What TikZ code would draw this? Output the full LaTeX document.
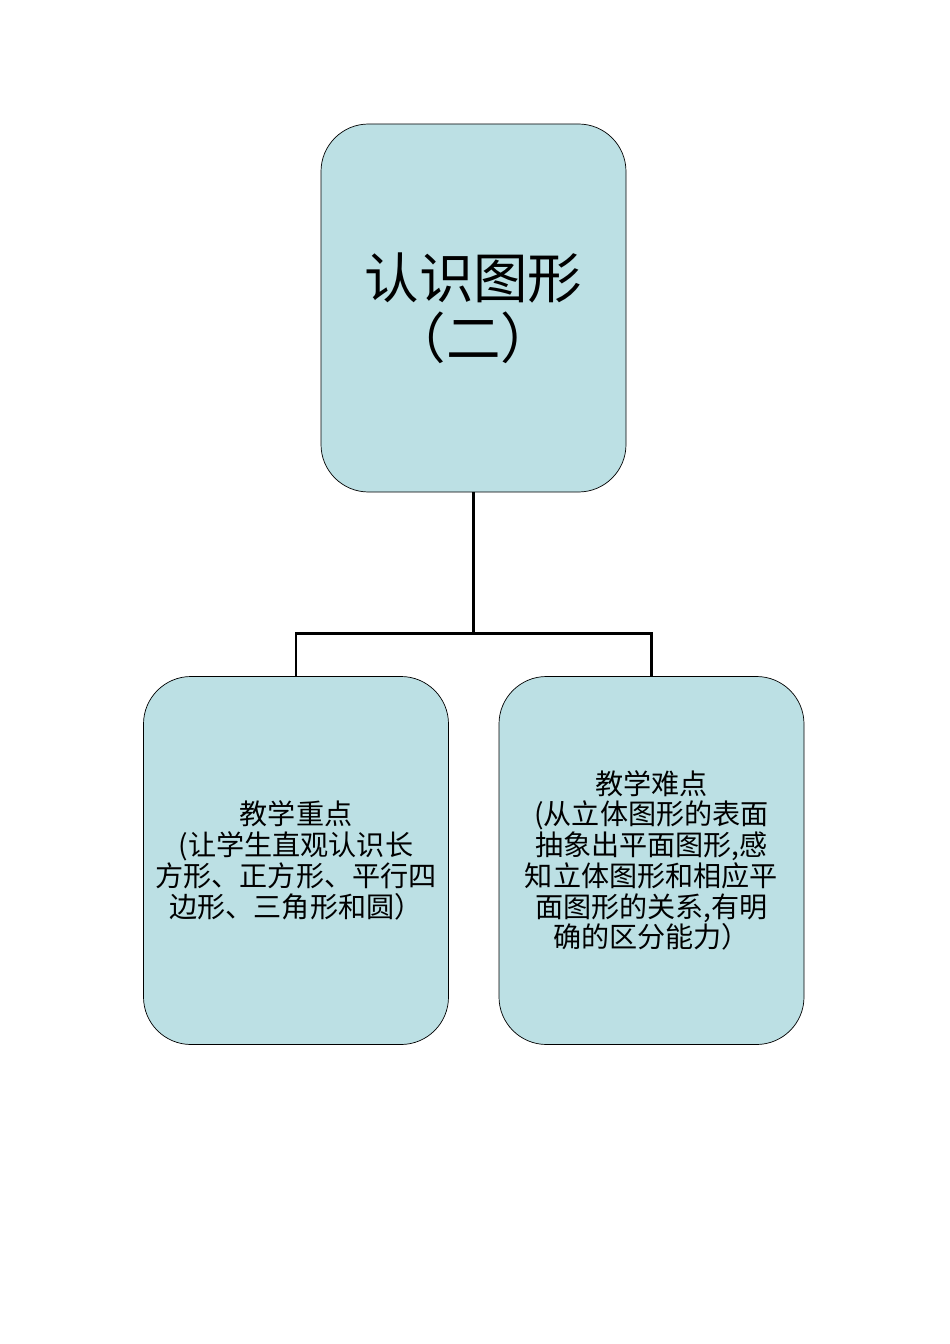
\documentclass[tikz,border=0pt]{standalone}
\usepackage{fontspec}
\newfontfamily\cjk{Noto Sans CJK SC}
\usetikzlibrary{calc,positioning}
\definecolor{boxblue}{RGB}{188,224,228}
\tikzset{
    topic box/.style={
        draw,thin,rounded corners=0.95cm,
        fill=boxblue,
        minimum width=6.1cm,minimum height=7.36cm,
        align=center,
        font=\cjk\fontsize{31}{34}\selectfont
    },
    point box/.style={
        topic box,
        font=\cjk\fontsize{16}{17.5}\selectfont
    },
    link/.style={line width=1.7pt},
}
\begin{document}
\begin{tikzpicture}
    \useasboundingbox (0,0) rectangle (19,-26.88);
    \node[topic box] (topic) at (9.47,-6.16) {认识图形\\（二）};
    \node[point box] (key) at (5.92,-17.21) {教学重点\\(让学生直观认识长\\方形、正方形、平行四\\边形、三角形和圆）};
    \node[point box] (hard) at (13.03,-17.21) {教学难点\\(从立体图形的表面\\抽象出平面图形,感\\知立体图形和相应平\\面图形的关系,有明\\确的区分能力）};
    \coordinate (fork) at ($(topic.south)+(0,-2.82)$);
    \draw[link] (topic.south) -- (fork);
    \draw[link] (key.north) |- (fork) -| (hard.north);
\end{tikzpicture}
\end{document}
